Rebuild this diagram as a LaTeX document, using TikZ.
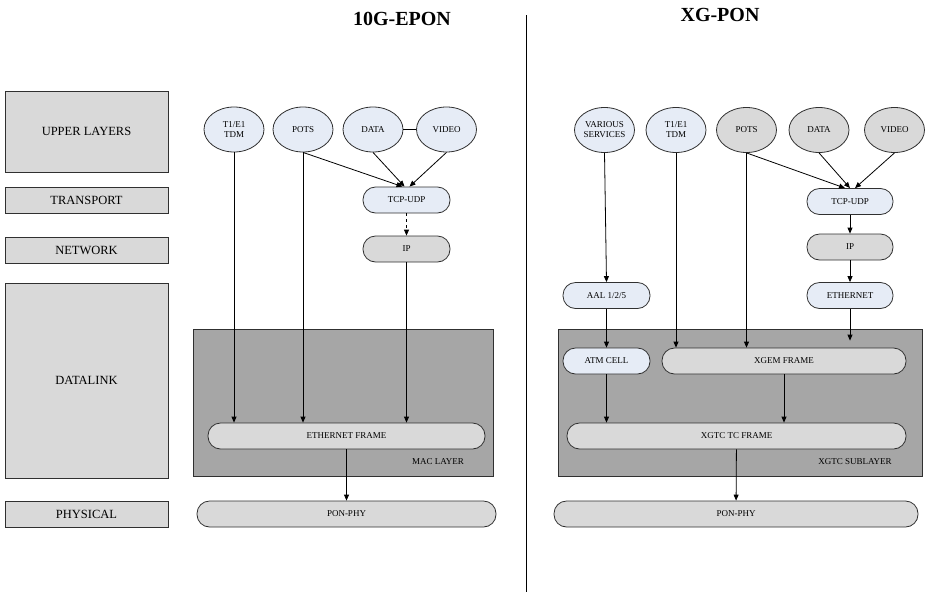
\documentclass[tikz,border=0pt]{standalone}
\usepackage{fontspec}
\setmainfont{Liberation Serif}
\usetikzlibrary{arrows.meta,positioning,calc,shapes.geometric}
\definecolor{PaleBlue}{HTML}{E6ECF6}
\definecolor{LightGrey}{HTML}{D9D9D9}
\definecolor{MidGrey}{HTML}{A6A6A6}
\definecolor{EdgeGrey}{HTML}{303030}

\tikzset{
  layerbox/.style={draw=EdgeGrey,fill=LightGrey,line width=0.8pt,minimum width=163pt,font=\fontsize{12.5}{14}\selectfont,inner sep=0pt},
  svc/.style={ellipse,draw=EdgeGrey,line width=0.8pt,minimum width=60pt,minimum height=45pt,inner sep=0pt,font=\fontsize{9}{10}\selectfont,align=center},
  pill/.style={draw=EdgeGrey,line width=0.8pt,rounded corners=12.5pt,minimum height=26pt,inner sep=0pt,font=\fontsize{9}{10}\selectfont},
  sublayer/.style={draw=EdgeGrey,fill=MidGrey,line width=0.8pt},
  flow/.style={-{Triangle[length=6pt,width=5pt]},line width=0.8pt,black},
}

\begin{document}
\begin{tikzpicture}[x=1pt,y=-1pt]
    \useasboundingbox (0,0) rectangle (926,592);
    % titles and divider
    \node[font=\bfseries\fontsize{20}{22}\selectfont] (ttlA) at (402,19) {10G-EPON};
    \node[font=\bfseries\fontsize{20}{22}\selectfont] (ttlB) at (720,15) {XG-PON};
    \coordinate (divtop) at (526,15);
    \coordinate (divbot) at (526,592);
    \draw[line width=0.8pt] (divtop) -- (divbot);

    % reference layers
    \node[layerbox,minimum height=81pt] (upper) at (86.5,131.5) {UPPER LAYERS};
    \node[layerbox,minimum height=26pt] (transport) at (86.5,200) {TRANSPORT};
    \node[layerbox,minimum height=26pt] (network) at (86.5,250) {NETWORK};
    \node[layerbox,minimum height=195pt] (datalink) at (86.5,380.5) {DATALINK};
    \node[layerbox,minimum height=26pt] (physical) at (86.5,514) {PHYSICAL};

    % 10G-EPON stack
    \draw[sublayer] (193,329) rectangle (493,476);
    \node[font=\fontsize{9}{10}\selectfont] (macA) at (438,462) {MAC LAYER};
    \node[svc,fill=PaleBlue] (tdmA) at (234,129.5) {T1/E1\\TDM};
    \node[svc,fill=PaleBlue] (potsA) at (303,129.5) {POTS};
    \node[svc,fill=PaleBlue] (dataA) at (373,129.5) {DATA};
    \node[svc,fill=PaleBlue] (videoA) at (446.5,129.5) {VIDEO};
    \node[pill,fill=PaleBlue,minimum width=87pt] (tcpA) at (406.5,200) {TCP-UDP};
    \node[pill,fill=LightGrey,minimum width=87pt] (ipA) at (406.5,249) {IP};
    \node[pill,fill=LightGrey,minimum width=277pt] (ethA) at (346.5,436) {ETHERNET FRAME};
    \node[pill,fill=LightGrey,minimum width=299pt] (phyA) at (346.5,514) {PON-PHY};

    \draw[line width=0.8pt] (dataA) -- (videoA);
    \draw[flow] (potsA.south) -- ([xshift=-4pt]tcpA.north);
    \draw[flow] (dataA.south) -- ([xshift=-2pt]tcpA.north);
    \draw[flow] (videoA.south) -- ([xshift=3pt]tcpA.north);
    \draw[flow,dashed] (tcpA) -- (ipA);
    \draw[flow] (tdmA.south) -- (tdmA.south |- ethA.north);
    \draw[flow] (potsA.south) -- (potsA.south |- ethA.north);
    \draw[flow] (ipA.south) -- (ipA.south |- ethA.north);
    \draw[flow] (ethA) -- (phyA);

    % XG-PON stack
    \draw[sublayer] (558,329) rectangle (922,476);
    \node[font=\fontsize{9}{10}\selectfont] (tcB) at (855,462) {XGTC SUBLAYER};
    \node[svc,fill=PaleBlue] (varB) at (604.5,130) {VARIOUS\\SERVICES};
    \node[svc,fill=PaleBlue] (tdmB) at (676,130) {T1/E1\\TDM};
    \node[svc,fill=LightGrey] (potsB) at (746.5,130) {POTS};
    \node[svc,fill=LightGrey] (dataB) at (819,130) {DATA};
    \node[svc,fill=LightGrey] (videoB) at (894.5,130) {VIDEO};
    \node[pill,fill=PaleBlue,minimum width=86pt] (tcpB) at (850,201.5) {TCP-UDP};
    \node[pill,fill=LightGrey,minimum width=86pt] (ipB) at (850,247) {IP};
    \node[pill,fill=PaleBlue,minimum width=86pt] (ethB) at (850,295.5) {ETHERNET};
    \node[pill,fill=PaleBlue,minimum width=87pt] (aalB) at (606.5,295.5) {AAL 1/2/5};
    \node[pill,fill=PaleBlue,minimum width=87pt] (atmB) at (606.5,361) {ATM CELL};
    \node[pill,fill=LightGrey,minimum width=244pt] (xgemB) at (784,361) {XGEM FRAME};
    \node[pill,fill=LightGrey,minimum width=339pt] (xtcB) at (736.5,436) {XGTC TC FRAME};
    \node[pill,fill=LightGrey,minimum width=364pt] (phyB) at (736,514) {PON-PHY};

    \draw[flow] (varB.south) -- (aalB.north);
    \draw[flow] (potsB.south) -- ([xshift=-5pt]tcpB.north);
    \draw[flow] (dataB.south) -- (tcpB.north);
    \draw[flow] (videoB.south) -- ([xshift=5pt]tcpB.north);
    \draw[flow] (tcpB) -- (ipB);
    \draw[flow] (ipB) -- (ethB);
    \draw[flow,shorten >=7pt] (ethB.south) -- (ethB.south |- xgemB.north);
    \draw[flow] (tdmB.south) -- (tdmB.south |- xgemB.north);
    \draw[flow] (potsB.south) -- (potsB.south |- xgemB.north);
    \draw[flow] (aalB) -- (atmB);
    \draw[flow] (atmB.south) -- (atmB.south |- xtcB.north);
    \draw[flow] (xgemB.south) -- (xgemB.south |- xtcB.north);
    \draw[flow] (xtcB) -- (phyB);
\end{tikzpicture}
\end{document}
